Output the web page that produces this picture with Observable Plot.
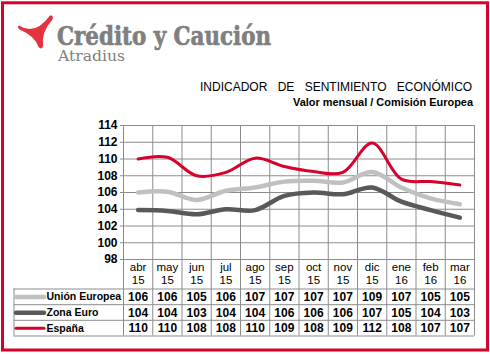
<!DOCTYPE html>
<html><head><meta charset="utf-8">
<script src="https://cdn.jsdelivr.net/npm/d3@7"></script>
<script src="https://cdn.jsdelivr.net/npm/@observablehq/plot@0.6"></script>
<style>
body{margin:0;background:#fff;}
#wrap{position:relative;width:490px;height:355px;overflow:hidden;}
#wrap svg{position:absolute;left:0;top:0;}
</style></head><body><div id="wrap"></div>
<script>
// ---- data ----
const months = ["abr","may","jun","jul","ago","sep","oct","nov","dic","ene","feb","mar"];
const years  = ["15","15","15","15","15","15","15","15","15","16","16","16"];
const seriesNames = ["Unión Europea","Zona Euro","España"];
const ueValues = [106.0,106.1,105.1,106.2,106.6,107.3,107.4,107.2,108.45,106.6,105.3,104.6];
const zeValues = [103.9,103.8,103.4,104.0,103.9,105.6,106.0,105.8,106.6,104.9,103.9,103.0];
const esValues = [110.0,110.2,108.0,108.4,110.1,109.1,108.5,108.4,111.9,107.6,107.3,106.9];
const ueTable = [106,106,105,106,107,107,107,107,109,107,105,105];
const zeTable = [104,104,103,104,104,106,106,106,107,105,104,103];
const esTable = [110,110,108,108,110,109,108,109,112,108,107,107];
const yTicks = [98,100,102,104,106,108,110,112,114];

// ---- styles ----
const colors = ["#c0c0c0","#595959","#d8002c"];
const widths = [4.5,4.5,3];
const grid = "#8c8c8c";
const FONT = "Arial, 'Liberation Sans', sans-serif";

const seriesValues = [ueValues, zeValues, esValues];
const tableValues = [ueTable, zeTable, esTable];
const lineData = seriesValues.flatMap((vals, s) => vals.map((v, i) => ({s, i, v})));
const tableData = tableValues.flatMap((vals, s) => vals.map((v, i) => ({s, i, v})));
const monthData = months.map((m, i) => ({i, label: m + "\n" + years[i]}));

// table geometry (pixel offsets below the plot frame)
const rowLines = [29.5, 45.2, 60.8, 76.5];
const rowCenters = [37.6, 53.2, 68.8];

const marks = [
  Plot.gridY(yTicks, {stroke: grid, strokeOpacity: 1}),
  Plot.ruleX(d3.range(months.length + 1), {stroke: grid, insetBottom: -rowLines[3]}),
  Plot.ruleX([0], {stroke: grid, dx: -109.5, insetTop: 134 + rowLines[0], insetBottom: -rowLines[3]}),
  ...rowLines.map(dy => Plot.ruleY([98], {stroke: grid, dy, insetLeft: -109.5})),
  Plot.frame({stroke: grid}),
  Plot.axisY(yTicks, {label: null, tickSize: 3, tickPadding: 3, fontWeight: "bold", fontSize: 12, fill: "#000", stroke: grid}),
  ...seriesNames.map((name, s) => Plot.line(lineData.filter(d => d.s === s), {
    x: d => d.i + 0.5, y: "v", stroke: colors[s], strokeWidth: widths[s], curve: "catmull-rom", strokeLinecap: "round"
  })),
  Plot.text(monthData, {x: d => d.i + 0.5, frameAnchor: "bottom", text: "label", lineAnchor: "top", dy: 2.5, lineHeight: 1.12, fontSize: 11.5, fill: "#000"}),
  ...seriesNames.map((name, s) => Plot.text(tableData.filter(d => d.s === s), {
    x: d => d.i + 0.5, frameAnchor: "bottom", text: d => String(d.v), dy: rowCenters[s], lineAnchor: "middle", fontWeight: "bold", fontSize: 12, fill: "#000"
  })),
  ...seriesNames.map((name, s) => Plot.ruleY([98], {stroke: colors[s], strokeWidth: widths[s], dy: rowCenters[s], insetLeft: -107, insetRight: 430, strokeLinecap: "round"})),
  ...seriesNames.map((name, s) => Plot.text([name], {
    frameAnchor: "bottom-left", text: d => d, dx: -77, dy: rowCenters[s], textAnchor: "start", lineAnchor: "middle", fontWeight: "bold", fontSize: 10.5, fill: "#000"
  }))
];

const chart = Plot.plot({
  width: 490, height: 355,
  marginLeft: 123, marginRight: 16, marginTop: 125, marginBottom: 96,
  style: {fontFamily: FONT, background: "transparent", overflow: "visible"},
  x: {domain: [0, months.length], axis: null},
  y: {domain: [98, 114], axis: null, label: null},
  marks
});
const wrap = document.getElementById("wrap");
wrap.appendChild(chart);

// ---- header: logo, title, border ----
const ns = "http://www.w3.org/2000/svg";
const over = document.createElementNS(ns, "svg");
over.setAttribute("width", 490); over.setAttribute("height", 355);
over.innerHTML = `
  <rect x="2.5" y="2.8" width="485" height="347.2" fill="none" stroke="#d6002a" stroke-width="3"/>
  <path d="M19,25.5 Q35,36 50,15.5 Q54,15 52.5,19.5 Q41,32 43,46.5 Q41.5,50 38.5,47 Q35,36 19.5,29.5 Q16.5,27 19,25.5 Z" fill="#e5323f"/>
  <text x="57" y="45" font-family="'DejaVu Serif', serif" font-weight="bold" font-size="26" fill="#7f7f7f" stroke="#7f7f7f" stroke-width="0.7" textLength="214" lengthAdjust="spacingAndGlyphs">Crédito y Caución</text>
  <text x="58" y="61" font-family="'DejaVu Serif', serif" font-size="14" fill="#808080" textLength="67" lengthAdjust="spacingAndGlyphs">Atradius</text>
  <text x="200" y="91" font-family="${FONT}" font-size="12" fill="#000" word-spacing="7">INDICADOR DE SENTIMIENTO ECONÓMICO</text>
  <text x="293" y="106" font-family="${FONT}" font-weight="bold" font-size="10" fill="#000" textLength="180" lengthAdjust="spacingAndGlyphs">Valor mensual / Comisión Europea</text>
`;
wrap.appendChild(over);
</script></body></html>
